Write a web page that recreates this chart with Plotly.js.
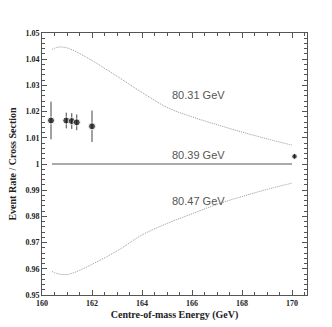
<!DOCTYPE html>
<html>
<head>
<meta charset="utf-8">
<script src="https://cdn.plot.ly/plotly-3.0.1.min.js"></script>
<style>
  html, body { margin: 0; padding: 0; background: #fff; }
  #grafico { width: 332px; height: 327px; }
</style>
</head>
<body>
<div id="grafico"></div>
<script>
// medidas (puntos con barras de error)
const energiaPuntos = [160.36, 160.97, 161.19, 161.39, 162.0, 170.1];
const razonPuntos = [1.0166, 1.0166, 1.0164, 1.0159, 1.0144, 1.0029];
const errorPuntos = [0.0072, 0.003, 0.003, 0.003, 0.006, 0.0009];

// curvas para distintas masas del W
const energiaCurvas = [160.4, 160.6, 160.85, 161.1, 161.5, 162, 163, 164, 165, 166, 167, 168, 169, 170];
const curva8031 = [1.0437, 1.0445, 1.0446, 1.0440, 1.0422, 1.0395, 1.0335, 1.0273, 1.0216, 1.0180, 1.0150, 1.0122, 1.0096, 1.0072];
const curva8047 = [0.9590, 0.9582, 0.9578, 0.9580, 0.9594, 0.9617, 0.9668, 0.9729, 0.9773, 0.9810, 0.9846, 0.9876, 0.9903, 0.9927];
const energiaRef = [160.4, 170];
const curva8039 = [1, 1];

const etiquetas = ["80.31 GeV", "80.39 GeV", "80.47 GeV"];
const etiquetaX = [165.1, 165.1, 165.1];
const etiquetaY = [1.0262, 1.0033, 0.986];

// el ultimo punto se dibuja algo mas chico
const tamanoMarcas = [7, 7, 7, 7, 7, 5.5];

const fuenteEje = { family: "Liberation Serif, Times New Roman, serif", size: 8, color: "#222", weight: "bold" };
const fuenteTitulo = { family: "Liberation Serif, Times New Roman, serif", size: 10, color: "#222", weight: "bold" };
const lineaPunteada = { color: "#999", width: 1, dash: "1px,1px", shape: "spline" };

const trazaArriba = {
    x: energiaCurvas, y: curva8031,
    mode: "lines", type: "scatter",
    line: lineaPunteada,
    hoverinfo: "skip"
};

const trazaMedio = {
    x: energiaRef, y: curva8039,
    mode: "lines", type: "scatter",
    line: { color: "#555", width: 1 },
    hoverinfo: "skip"
};

const trazaAbajo = {
    x: energiaCurvas, y: curva8047,
    mode: "lines", type: "scatter",
    line: lineaPunteada,
    hoverinfo: "skip"
};

const trazaPuntos = {
    x: energiaPuntos, y: razonPuntos,
    mode: "markers", type: "scatter",
    marker: { color: "#000", size: tamanoMarcas },
    error_y: { type: "data", array: errorPuntos, visible: true, color: "#444", thickness: 1, width: 0 }
};

const ejeComun = {
    ticks: "inside",
    ticklen: 5,
    tickwidth: 1,
    tickcolor: "#555",
    showline: true,
    linecolor: "#555",
    linewidth: 1,
    mirror: "allticks",
    showgrid: false,
    zeroline: false,
    tickfont: fuenteEje
};

const layout = {
    width: 332,
    height: 327,
    margin: { l: 42, r: 25, t: 33, b: 32 },
    paper_bgcolor: "#fff",
    plot_bgcolor: "#fff",
    showlegend: false,
    xaxis: Object.assign({}, ejeComun, {
        range: [160, 170.6],
        tickvals: [160, 162, 164, 166, 168, 170],
        ticktext: ["160", "162", "164", "166", "168", "170"],
        minor: { dtick: 0.5, tick0: 160, ticks: "inside", ticklen: 3, tickcolor: "#555" },
        title: { text: "Centre-of-mass Energy (GeV)", font: fuenteTitulo, standoff: 4 }
    }),
    yaxis: Object.assign({}, ejeComun, {
        range: [0.95, 1.05],
        tickvals: [0.95, 0.96, 0.97, 0.98, 0.99, 1, 1.01, 1.02, 1.03, 1.04, 1.05],
        ticktext: ["0.95", "0.96", "0.97", "0.98", "0.99", "1", "1.01", "1.02", "1.03", "1.04", "1.05"],
        minor: { dtick: 0.002, tick0: 0.95, ticks: "inside", ticklen: 3, tickcolor: "#555" },
        title: { text: "Event Rate / Cross Section", font: fuenteTitulo, standoff: 6 }
    }),
    annotations: etiquetas.map((t, i) => ({
        x: etiquetaX[i], y: etiquetaY[i], text: t,
        xanchor: "left", yanchor: "middle", showarrow: false,
        font: { family: "Liberation Sans, Arial, sans-serif", size: 11, color: "#555" }
    }))
};

Plotly.newPlot("grafico", [trazaArriba, trazaMedio, trazaAbajo, trazaPuntos], layout, { staticPlot: true });
</script>
</body>
</html>
